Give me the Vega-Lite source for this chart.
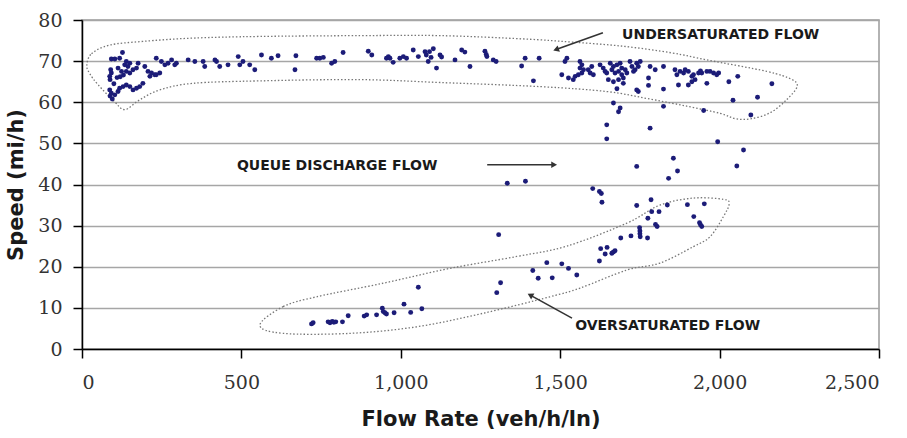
{
  "$schema": "https://vega.github.io/schema/vega-lite/v6.json",
  "width": 797,
  "height": 329,
  "autosize": "none",
  "padding": {"left": 82, "top": 20, "right": 28, "bottom": 89},
  "background": "white",
  "config": {
    "view": {"stroke": "#9a9a9a", "strokeWidth": 1.5},
    "axis": {
      "labelFont": "DejaVu Serif", "labelFontSize": 19, "labelColor": "#333",
      "titleFont": "DejaVu Sans", "titleFontSize": 21, "titleFontWeight": "bold", "titleColor": "#1a1a1a",
      "domainColor": "#000", "domainWidth": 1.5, "tickColor": "#000", "tickWidth": 1.5, "tickSize": 9
    }
  },
  "datasets": {
    "pts": [
      {"x":92,"y":70.5},{"x":103,"y":70.5},{"x":118,"y":70.7},{"x":127,"y":72.1},{"x":139,"y":69.9},{"x":150,"y":69.5},{"x":134,"y":69.1},{"x":144,"y":68.7},{"x":113,"y":68.3},{"x":124,"y":67.5},{"x":139,"y":67.5},{"x":150,"y":67.1},{"x":160,"y":67.9},{"x":171,"y":68.3},{"x":176,"y":69.5},{"x":197,"y":68.7},{"x":207,"y":67.5},{"x":218,"y":67.1},{"x":228,"y":66.7},{"x":244,"y":67.1},{"x":233,"y":70.7},{"x":249,"y":69.9},{"x":260,"y":69.1},{"x":270,"y":69.5},{"x":291,"y":69.1},{"x":281,"y":70.3},
      {"x":87,"y":66.3},{"x":90,"y":67.9},{"x":92,"y":67.1},{"x":88,"y":65.5},
      {"x":87,"y":63},{"x":92,"y":62.2},{"x":103,"y":61.8},{"x":113,"y":62.6},{"x":118,"y":63.4},{"x":129,"y":63.8},{"x":139,"y":64.2},{"x":150,"y":63.8},{"x":160,"y":63},{"x":171,"y":63.4},{"x":181,"y":63.8},{"x":191,"y":64.6},{"x":213,"y":66.3},{"x":233,"y":66.7},{"x":95,"y":60.8},{"x":88,"y":61.5},{"x":100,"y":64.5},{"x":110,"y":66},{"x":120,"y":66.2},{"x":130,"y":66.6},
      {"x":296,"y":69.5},{"x":333,"y":70.3},{"x":354,"y":69.9},{"x":380,"y":69.9},{"x":385,"y":68.7},{"x":417,"y":70.3},{"x":422,"y":69.9},{"x":432,"y":68.7},{"x":458,"y":69.1},{"x":490,"y":71.1},{"x":495,"y":69.1},{"x":505,"y":69.9},{"x":526,"y":69.1},{"x":542,"y":67.9},{"x":563,"y":71.5},{"x":594,"y":70.7},{"x":615,"y":71.3},{"x":671,"y":71.3},{"x":668,"y":67.9},{"x":736,"y":70.7},{"x":746,"y":70.7},{"x":757,"y":70.9},{"x":783,"y":69.5},{"x":793,"y":69.9},{"x":819,"y":72.1},
      {"x":898,"y":72.4},{"x":909,"y":71.5},{"x":955,"y":70.7},{"x":961,"y":71.1},{"x":966,"y":70.7},{"x":976,"y":69.7},{"x":997,"y":70.7},{"x":1008,"y":71.1},{"x":1018,"y":70.7},{"x":1039,"y":72.7},{"x":1055,"y":71.1},{"x":1076,"y":72.3},{"x":1080,"y":71.5},{"x":1090,"y":72.3},{"x":1086,"y":69.9},{"x":1095,"y":70.9},{"x":1102,"y":73},{"x":1112,"y":68.3},{"x":1123,"y":71.5},{"x":1128,"y":71},{"x":1170,"y":70.3},{"x":1191,"y":72.7},{"x":1201,"y":72.2},{"x":1217,"y":68.7},{"x":1264,"y":72.4},{"x":1268,"y":71.6},{"x":1270,"y":71.1},{"x":1290,"y":70.3},{"x":1299,"y":69.9},{"x":1379,"y":68.8},{"x":1390,"y":70.7},{"x":1416,"y":65.2},{"x":1434,"y":70.7},
      {"x":1515,"y":69.9},{"x":1505,"y":66.7},{"x":1526,"y":65.9},{"x":1541,"y":65.5},{"x":1547,"y":66.3},{"x":1557,"y":66.7},{"x":1562,"y":69.9},{"x":1568,"y":69.1},{"x":1562,"y":68.3},{"x":1573,"y":67.9},{"x":1568,"y":67.1},{"x":1588,"y":67.9},{"x":1599,"y":68.7},{"x":1594,"y":67.1},{"x":1604,"y":66.7},{"x":1625,"y":69.1},{"x":1635,"y":68.3},{"x":1641,"y":67.5},{"x":1646,"y":67.1},{"x":1521,"y":70.7},
      {"x":1657,"y":69.5},{"x":1667,"y":68.7},{"x":1662,"y":67.9},{"x":1672,"y":67.1},{"x":1678,"y":69.1},{"x":1683,"y":67.5},{"x":1688,"y":69.5},{"x":1693,"y":68.3},{"x":1693,"y":66.7},{"x":1698,"y":65.9},{"x":1704,"y":67.9},{"x":1709,"y":67.1},{"x":1719,"y":69.9},{"x":1725,"y":68.7},{"x":1730,"y":67.5},{"x":1735,"y":67.9},{"x":1740,"y":69.5},{"x":1745,"y":68.7},{"x":1751,"y":69.9},{"x":1651,"y":65.5},{"x":1667,"y":65},{"x":1683,"y":65.5},{"x":1698,"y":64.6},{"x":1678,"y":63.3},{"x":1740,"y":63},{"x":1745,"y":62.6},{"x":1777,"y":64.1},{"x":1782,"y":68.7},{"x":1798,"y":67.9},{"x":1824,"y":68.7},{"x":1824,"y":63.2},{"x":1777,"y":65.9},
      {"x":1860,"y":67.9},{"x":1866,"y":66.7},{"x":1876,"y":67.5},{"x":1887,"y":67.1},{"x":1892,"y":67.9},{"x":1902,"y":67.5},{"x":1913,"y":66.3},{"x":1918,"y":66.7},{"x":1923,"y":65.5},{"x":1934,"y":67.1},{"x":1944,"y":67.1},{"x":1960,"y":67.5},{"x":1970,"y":67.5},{"x":1981,"y":67.1},{"x":1991,"y":66.7},{"x":1871,"y":64.2},{"x":1902,"y":64.2},{"x":1913,"y":65},{"x":1960,"y":64.6},{"x":1940,"y":67.6},{"x":1997,"y":67.1},
      {"x":2029,"y":65},{"x":2057,"y":66.3},{"x":2164,"y":64.5},{"x":2042,"y":60.5},{"x":2119,"y":61.2},{"x":2098,"y":56.9},{"x":1950,"y":58},{"x":1824,"y":59},{"x":1667,"y":59.8},{"x":1688,"y":58.6},{"x":1683,"y":57.7},
      {"x":1646,"y":54.5},{"x":1782,"y":53.7},{"x":1646,"y":51.1},{"x":1994,"y":50.4},{"x":2075,"y":48.4},{"x":2054,"y":44.5},{"x":1855,"y":46.4},{"x":1868,"y":43.3},{"x":1740,"y":44.4},{"x":1840,"y":41.5},{"x":1602,"y":39},{"x":1623,"y":38.3},{"x":1629,"y":37.8},{"x":1631,"y":35.7},{"x":1740,"y":34.9},{"x":1785,"y":36.3},{"x":1836,"y":35},{"x":1899,"y":35.1},{"x":1952,"y":35.3},{"x":1787,"y":33.4},{"x":1810,"y":33.4},{"x":1775,"y":31.8},{"x":1919,"y":32.2},{"x":1937,"y":30.7},{"x":1940,"y":30.2},{"x":1944,"y":29.8},{"x":1749,"y":29.5},{"x":1750,"y":28.7},{"x":1750,"y":28},{"x":1751,"y":27.3},{"x":1799,"y":30.3},{"x":1804,"y":29.8},{"x":1722,"y":27.5},{"x":1774,"y":27},{"x":1690,"y":27},{"x":1627,"y":24.4},{"x":1647,"y":24.7},{"x":1641,"y":23.1},{"x":1662,"y":23.3},{"x":1667,"y":23.6},{"x":1672,"y":23.9},{"x":1623,"y":21.4},{"x":1505,"y":20.7},{"x":1526,"y":19.6},{"x":1552,"y":18},{"x":1458,"y":21},{"x":1475,"y":17.3},{"x":1414,"y":19.1},{"x":1431,"y":17.2},
      {"x":1334,"y":40.3},{"x":1391,"y":40.8},{"x":1307,"y":27.8},{"x":1313,"y":16.1},{"x":1301,"y":13.7},
      {"x":1055,"y":15},{"x":1066,"y":9.8},{"x":1031,"y":8.9},{"x":1010,"y":10.9},{"x":979,"y":8.8},{"x":942,"y":9.9},{"x":950,"y":8.8},{"x":955,"y":8.5},{"x":945,"y":9.1},{"x":924,"y":8.3},{"x":885,"y":8},{"x":893,"y":8.3},{"x":835,"y":8.1},{"x":817,"y":6.6},{"x":772,"y":6.6},{"x":778,"y":6.4},{"x":785,"y":6.7},{"x":790,"y":6.5},{"x":796,"y":6.6},{"x":720,"y":6.1},{"x":725,"y":6.4}
    ],
    "outline": [
      {"g":"u","o":1,"x":15,"y":69},{"g":"u","o":2,"x":30,"y":71.8},{"g":"u","o":3,"x":87,"y":73.9},{"g":"u","o":4,"x":191,"y":74.8},{"g":"u","o":5,"x":348,"y":75.6},{"g":"u","o":6,"x":558,"y":76},{"g":"u","o":7,"x":872,"y":76.2},{"g":"u","o":8,"x":1123,"y":76.2},{"g":"u","o":9,"x":1384,"y":75.4},{"g":"u","o":10,"x":1541,"y":74.6},{"g":"u","o":11,"x":1700,"y":73.6},{"g":"u","o":12,"x":1850,"y":72},{"g":"u","o":13,"x":1960,"y":70.3},{"g":"u","o":14,"x":2148,"y":67.5},{"g":"u","o":15,"x":2225,"y":65.6},{"g":"u","o":16,"x":2243,"y":63.8},{"g":"u","o":17,"x":2210,"y":60.6},{"g":"u","o":18,"x":2160,"y":57.5},{"g":"u","o":19,"x":2100,"y":56},{"g":"u","o":20,"x":2050,"y":56},{"g":"u","o":21,"x":2002,"y":57.3},{"g":"u","o":22,"x":1900,"y":59},{"g":"u","o":23,"x":1780,"y":60.8},{"g":"u","o":24,"x":1646,"y":62.6},{"g":"u","o":25,"x":1437,"y":63.8},{"g":"u","o":26,"x":1123,"y":64.8},{"g":"u","o":27,"x":872,"y":65.5},{"g":"u","o":28,"x":558,"y":65.2},{"g":"u","o":29,"x":348,"y":64.6},{"g":"u","o":30,"x":244,"y":63},{"g":"u","o":31,"x":181,"y":60.6},{"g":"u","o":32,"x":134,"y":58.2},{"g":"u","o":33,"x":100,"y":60.3},{"g":"u","o":34,"x":50,"y":64.3},{"g":"u","o":35,"x":24,"y":67},
      {"g":"o","o":1,"x":558,"y":5.8},{"g":"o","o":2,"x":631,"y":10.3},{"g":"o","o":3,"x":736,"y":12.7},{"g":"o","o":4,"x":945,"y":16},{"g":"o","o":5,"x":1154,"y":19.6},{"g":"o","o":6,"x":1364,"y":22.5},{"g":"o","o":7,"x":1520,"y":25},{"g":"o","o":8,"x":1709,"y":30.6},{"g":"o","o":9,"x":1813,"y":35},{"g":"o","o":10,"x":1918,"y":36.7},{"g":"o","o":11,"x":2012,"y":36.4},{"g":"o","o":12,"x":2030,"y":35.3},{"g":"o","o":13,"x":2012,"y":32.2},{"g":"o","o":14,"x":1970,"y":27.3},{"g":"o","o":15,"x":1918,"y":24.9},{"g":"o","o":16,"x":1813,"y":20.9},{"g":"o","o":17,"x":1709,"y":19.2},{"g":"o","o":18,"x":1562,"y":14.8},{"g":"o","o":19,"x":1468,"y":12.7},{"g":"o","o":20,"x":1259,"y":8.7},{"g":"o","o":21,"x":1050,"y":5.4},{"g":"o","o":22,"x":840,"y":3.8},{"g":"o","o":23,"x":631,"y":3.8}
    ],
    "arrows": [
      {"x":1634,"y":76.9,"x2":1487,"y2":72.8,"ang":160},
      {"x":1271,"y":44.8,"x2":1481,"y2":44.8,"ang":0},
      {"x":1537,"y":7.5,"x2":1406,"y2":13.1,"ang":209}
    ],
    "labels": [
      {"x":1694,"y":75.35,"t":"UNDERSATURATED FLOW"},
      {"x":486,"y":43.55,"t":"QUEUE DISCHARGE FLOW"},
      {"x":1547,"y":4.6,"t":"OVERSATURATED FLOW"}
    ]
  },
  "layer": [
    {
      "data": {"name": "outline"},
      "mark": {"type": "line", "interpolate": "cardinal-closed", "stroke": "#777", "strokeWidth": 1.3, "strokeDash": [1.5, 2]},
      "encoding": {
        "x": {"field": "x", "type": "quantitative", "scale": {"domain": [0, 2500], "nice": false},
              "axis": {"values": [0, 500, 1000, 1500, 2000, 2500], "format": ",.0f", "grid": false, "title": "Flow Rate (veh/h/ln)", "labelPadding": 15, "titlePadding": 16}},
        "y": {"field": "y", "type": "quantitative", "scale": {"domain": [0, 80], "nice": false},
              "axis": {"values": [0, 10, 20, 30, 40, 50, 60, 70, 80], "format": ".0f", "grid": true, "gridColor": "#a6a6a6", "gridWidth": 1.5, "title": "Speed (mi/h)", "labelPadding": 11, "titlePadding": 11}},
        "detail": {"field": "g"},
        "order": {"field": "o", "type": "quantitative"}
      }
    },
    {
      "data": {"name": "pts"},
      "mark": {"type": "point", "filled": true, "color": "#1c1c78", "size": 24, "opacity": 1},
      "encoding": {
        "x": {"field": "x", "type": "quantitative"},
        "y": {"field": "y", "type": "quantitative"}
      }
    },
    {
      "data": {"name": "arrows"},
      "mark": {"type": "rule", "color": "#333", "strokeWidth": 1.6},
      "encoding": {
        "x": {"field": "x", "type": "quantitative"},
        "y": {"field": "y", "type": "quantitative"},
        "x2": {"field": "x2"},
        "y2": {"field": "y2"}
      }
    },
    {
      "data": {"name": "arrows"},
      "mark": {"type": "point", "shape": "triangle-right", "filled": true, "color": "#333", "size": 45, "opacity": 1},
      "encoding": {
        "x": {"field": "x2", "type": "quantitative"},
        "y": {"field": "y2", "type": "quantitative"},
        "angle": {"field": "ang", "type": "quantitative", "scale": null}
      }
    },
    {
      "data": {"name": "labels"},
      "mark": {"type": "text", "align": "left", "baseline": "alphabetic", "font": "DejaVu Sans", "fontWeight": "bold", "fontSize": 14, "color": "#1a1a1a"},
      "encoding": {
        "x": {"field": "x", "type": "quantitative"},
        "y": {"field": "y", "type": "quantitative"},
        "text": {"field": "t"}
      }
    }
  ]
}
